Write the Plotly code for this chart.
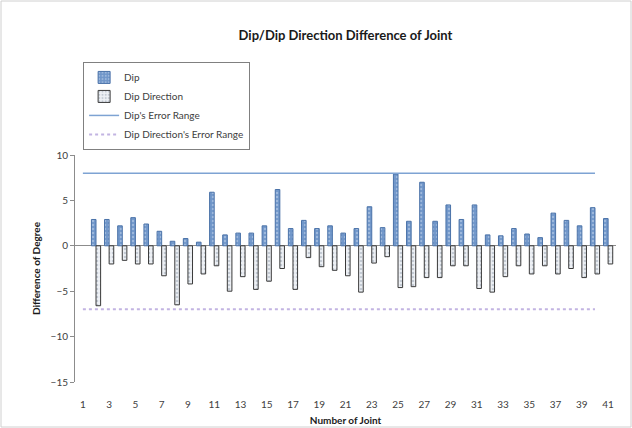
import plotly.graph_objects as go

# Joint numbers on the category axis (bars sit on joints 2..41)
joints = list(range(2, 42))

# Difference in dip (degrees) per joint
dip_diff = [2.9, 2.9, 2.2, 3.1, 2.4, 1.6, 0.5, 0.8, 0.4, 5.9,
            1.2, 1.4, 1.4, 2.2, 6.2, 1.9, 2.8, 1.9, 2.2, 1.4,
            1.9, 4.3, 2.0, 7.9, 2.7, 7.0, 2.7, 4.5, 2.9, 4.5,
            1.2, 1.1, 1.9, 1.3, 0.9, 3.6, 2.8, 2.2, 4.2, 3.0]

# Difference in dip direction (degrees) per joint
dipdir_diff = [-6.6, -2.0, -1.6, -2.0, -2.0, -3.3, -6.5, -4.2, -3.1, -2.2,
               -5.0, -3.4, -4.8, -3.9, -2.5, -4.8, -1.3, -2.3, -2.7, -3.3,
               -5.1, -1.9, -1.2, -4.6, -4.5, -3.5, -3.5, -2.2, -2.2, -4.7,
               -5.1, -3.4, -2.2, -3.1, -2.2, -3.1, -2.5, -3.5, -3.1, -2.0]

# Error range reference lines
range_x = [1, 40]
dip_error = [8, 8]
dipdir_error = [-7, -7]

x_ticks = list(range(1, 42, 2))
y_ticks = [10, 5, 0, -5, -10, -15]

FONT = "Lato, 'Liberation Sans', sans-serif"
TXT = "#404040"

fig = go.Figure()

fig.add_trace(go.Bar(
    x=joints, y=dip_diff, name="Dip",
    marker=dict(color="#7096c9",
                line=dict(color="#4a72a8", width=1),
                pattern=dict(shape=".", fgcolor="#c9d9ee", size=4, solidity=0.3)),
))
fig.add_trace(go.Bar(
    x=joints, y=dipdir_diff, name="Dip Direction",
    marker=dict(color="#ffffff",
                line=dict(color="#3a3a3a", width=1),
                pattern=dict(shape=".", fgcolor="#9aa6b4", bgcolor="#eef1f5", size=4, solidity=0.35)),
))
fig.add_trace(go.Scatter(
    x=range_x, y=dip_error, name="Dip's Error Range", mode="lines",
    line=dict(color="#7ea3d3", width=1.5),
))
fig.add_trace(go.Scatter(
    x=range_x, y=dipdir_error, name="Dip Direction's Error Range", mode="lines",
    line=dict(color="#c2b4e2", width=2, dash="dot"),
))

fig.update_layout(
    width=632, height=428,
    margin=dict(l=75, r=16, t=155, b=46),
    paper_bgcolor="white", plot_bgcolor="white",
    font=dict(family=FONT, size=10, color=TXT),
    barmode="group", bargap=0.3, bargroupgap=0,
    title=dict(text="<b>Dip/Dip Direction Difference of Joint</b>",
               x=0.5, xref="paper", y=0.917, yref="container",
               xanchor="center", yanchor="middle",
               font=dict(family=FONT, size=13, color="#1a1a1a")),
    showlegend=True,
    legend=dict(x=0.015, y=1.41, xanchor="left", yanchor="top",
                bgcolor="white", bordercolor="#808080", borderwidth=1,
                font=dict(family=FONT, size=10, color=TXT),
                itemwidth=30, tracegroupgap=0),
    xaxis=dict(range=[0.4, 41.6], tickmode="array", tickvals=x_ticks,
               showgrid=False, zeroline=False, showline=False,
               ticks="", ticklabelstandoff=15, automargin=False,
               tickfont=dict(size=10, color=TXT),
               title=dict(text="<b>Number of Joint</b>", standoff=7,
                          font=dict(size=10, color="#1a1a1a"))),
    yaxis=dict(range=[-15, 10], tickmode="array", tickvals=y_ticks,
               showgrid=False, zeroline=True, zerolinecolor="#8c8c8c", zerolinewidth=1,
               showline=True, linecolor="#8c8c8c", linewidth=1,
               ticks="outside", ticklen=4, tickcolor="#8c8c8c", automargin=False,
               tickfont=dict(size=10, color=TXT),
               title=dict(text="<b>Difference of Degree</b>", standoff=8,
                          font=dict(size=10, color="#1a1a1a"))),
)

# Thin chart-area border
fig.add_shape(type="rect", xref="paper", yref="paper",
              x0=-74 / 541, x1=1 + 15 / 541, y0=-45 / 227, y1=1 + 154 / 227,
              line=dict(color="#d0d0d0", width=1))

fig.write_html("out.html")
